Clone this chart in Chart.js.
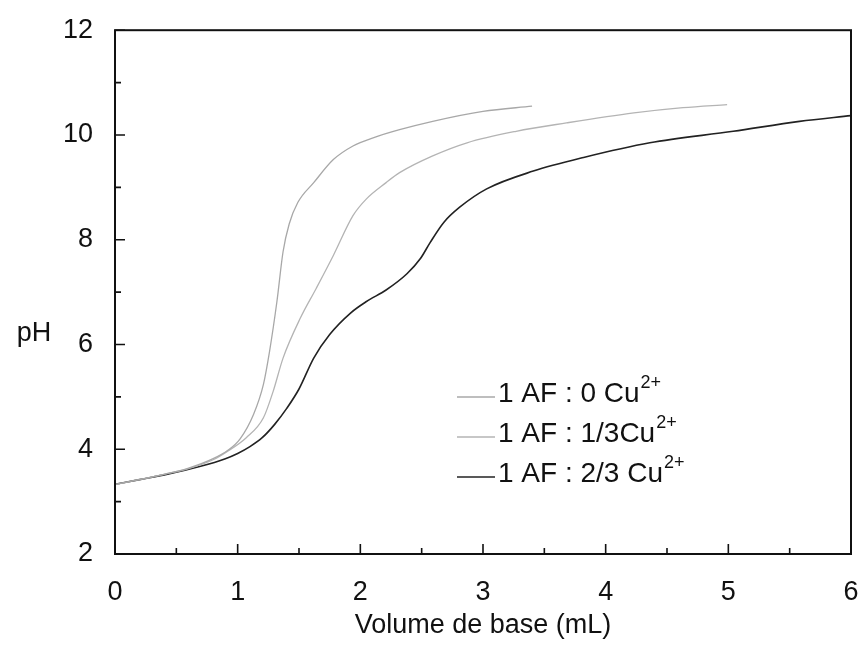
<!DOCTYPE html>
<html>
<head>
<meta charset="utf-8">
<script src="https://cdn.jsdelivr.net/npm/chart.js@4.4.0/dist/chart.umd.min.js"></script>
<style>
  html, body { margin: 0; padding: 0; background: #fff; overflow: hidden; }
  canvas { display: block; }
</style>
</head>
<body>
<canvas id="titration" width="860" height="646"></canvas>
<script>
// volume of base added (mL) and measured pH, one pair of arrays per curve
const vol0 = [0, 0.2, 0.4, 0.6, 0.8, 0.92, 1.02, 1.13, 1.21, 1.26, 1.32, 1.37, 1.42, 1.49, 1.62, 1.78, 1.94, 2.11, 2.32, 2.59, 3.0, 3.4];
const ph0  = [3.33, 3.42, 3.52, 3.64, 3.82, 3.98, 4.2, 4.67, 5.24, 5.87, 6.82, 7.77, 8.3, 8.71, 9.09, 9.53, 9.79, 9.95, 10.1, 10.26, 10.45, 10.55];

const vol13 = [0, 0.2, 0.4, 0.6, 0.8, 0.91, 1.07, 1.21, 1.29, 1.37, 1.51, 1.64, 1.78, 1.94, 2.05, 2.21, 2.32, 2.59, 2.87, 3.27, 3.68, 4.23, 4.63, 4.99];
const ph13  = [3.33, 3.42, 3.52, 3.63, 3.8, 3.95, 4.22, 4.6, 5.11, 5.74, 6.5, 7.07, 7.7, 8.46, 8.78, 9.09, 9.28, 9.6, 9.85, 10.07, 10.23, 10.42, 10.52, 10.58];

const vol23 = [0, 0.2, 0.42, 0.69, 0.9, 1.0, 1.1, 1.2, 1.3, 1.4, 1.5, 1.62, 1.75, 1.92, 2.05, 2.21, 2.38, 2.49, 2.57, 2.68, 2.81, 3.03, 3.41, 3.82, 4.36, 5.04, 5.58, 6.0];
const ph23  = [3.33, 3.42, 3.52, 3.67, 3.82, 3.92, 4.05, 4.22, 4.47, 4.78, 5.15, 5.74, 6.19, 6.6, 6.82, 7.04, 7.35, 7.64, 7.95, 8.33, 8.62, 8.97, 9.31, 9.57, 9.85, 10.07, 10.26, 10.37];

const legendText = ['1 AF : 0 Cu', '1 AF : 1/3Cu', '1 AF : 2/3 Cu'];
const legendSup = '2+';
const xTitle = 'Volume de base (mL)';
const yTitle = 'pH';

const FONT = "'Liberation Sans', Arial, Helvetica, sans-serif";

function toPoints(xs, ys) {
  return xs.map((v, i) => ({ x: v, y: ys[i] }));
}

// frame, inward ticks, horizontal "pH" and the legend with superscripts
const frameAndLegend = {
  id: 'frameAndLegend',
  afterDraw(chart) {
    const { ctx, chartArea: a, scales: { x, y } } = chart;
    ctx.save();
    ctx.strokeStyle = '#111';
    ctx.lineWidth = 2;
    ctx.strokeRect(a.left, a.top, a.right - a.left, a.bottom - a.top);

    ctx.lineWidth = 1.6;
    ctx.beginPath();
    x.ticks.forEach(t => {
      const px = x.getPixelForValue(t.value);
      const len = Number.isInteger(t.value) ? 10 : 6;
      ctx.moveTo(px, a.bottom);
      ctx.lineTo(px, a.bottom - len);
    });
    y.ticks.forEach(t => {
      const py = y.getPixelForValue(t.value);
      const len = t.value % 2 === 0 ? 10 : 6;
      ctx.moveTo(a.left, py);
      ctx.lineTo(a.left + len, py);
    });
    ctx.stroke();

    ctx.fillStyle = '#111';
    ctx.font = '27px ' + FONT;
    ctx.textAlign = 'center';
    ctx.textBaseline = 'middle';
    ctx.fillText(yTitle, 34, y.getPixelForValue(6.2));

    // legend
    ctx.textAlign = 'left';
    ctx.textBaseline = 'alphabetic';
    chart.data.datasets.forEach((ds, i) => {
      const base = 402 + i * 40;
      ctx.strokeStyle = ds.borderColor;
      ctx.lineWidth = ds.borderWidth;
      ctx.beginPath();
      ctx.moveTo(457, base - 5);
      ctx.lineTo(495, base - 5);
      ctx.stroke();
      ctx.font = '28px ' + FONT;
      ctx.fillText(legendText[i], 498, base);
      const w = ctx.measureText(legendText[i]).width;
      ctx.font = '18px ' + FONT;
      ctx.fillText(legendSup, 498 + w + 1, base - 14);
    });
    ctx.restore();
  }
};

new Chart(document.getElementById('titration'), {
  type: 'line',
  data: {
    datasets: [
      { label: legendText[0], data: toPoints(vol0, ph0), borderColor: '#a8a8a8', borderWidth: 1.3 },
      { label: legendText[1], data: toPoints(vol13, ph13), borderColor: '#b4b4b4', borderWidth: 1.3 },
      { label: legendText[2], data: toPoints(vol23, ph23), borderColor: '#222', borderWidth: 1.6 }
    ]
  },
  options: {
    responsive: false,
    animation: false,
    parsing: false,
    elements: {
      point: { radius: 0 },
      line: { cubicInterpolationMode: 'monotone', fill: false }
    },
    layout: { padding: { top: 27, right: 9, left: 0, bottom: 0 } },
    plugins: { legend: { display: false }, tooltip: { enabled: false } },
    scales: {
      x: {
        type: 'linear',
        min: 0,
        max: 6,
        grid: { display: false },
        border: { display: false },
        ticks: {
          stepSize: 0.5,
          autoSkip: false,
          maxRotation: 0,
          padding: 14,
          color: '#111',
          font: { family: FONT, size: 27 },
          callback: v => Number.isInteger(v) ? v : ''
        },
        title: {
          display: true,
          text: xTitle,
          color: '#111',
          font: { family: FONT, size: 27 },
          padding: { top: 0, bottom: 4 }
        },
        afterFit(scale) {
          scale.height = 92;
          scale.paddingRight = 0;
        }
      },
      y: {
        type: 'linear',
        min: 2,
        max: 12,
        grid: { display: false },
        border: { display: false },
        ticks: {
          stepSize: 1,
          autoSkip: false,
          padding: 14,
          color: '#111',
          font: { family: FONT, size: 27 },
          callback: v => v % 2 === 0 ? v : ''
        },
        afterFit(scale) { scale.width = 115; }
      }
    }
  },
  plugins: [frameAndLegend]
});
</script>
</body>
</html>
